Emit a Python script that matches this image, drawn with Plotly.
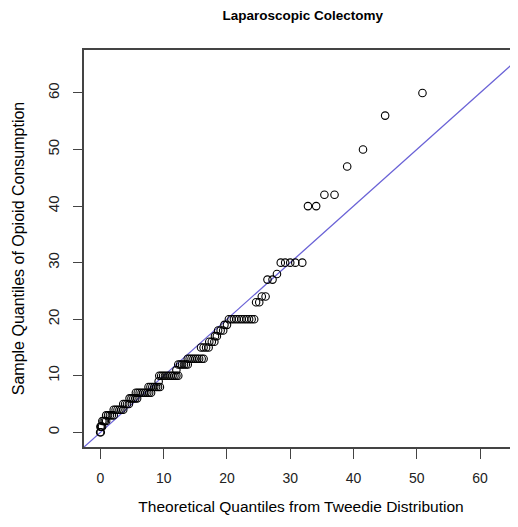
import plotly.graph_objects as go

# ---- data ----
theoretical_quantiles = [
    -0.05, 0.05,
    0.0, 0.1, 0.25,
    0.3, 0.5, 0.7, 0.9,
    0.9, 1.2, 1.5, 1.8, 2.1,
    2.1, 2.4, 2.7, 3.0, 3.3, 3.6,
    3.6, 3.9, 4.2, 4.5,
    4.6, 4.9, 5.2, 5.5, 5.8,
    5.6, 5.9, 6.2, 6.5, 6.8, 7.1, 7.4, 7.7, 8.0,
    7.6, 7.9, 8.2, 8.5, 8.8, 9.1, 9.4,
    9.2,
    9.3, 9.6, 9.9, 10.2, 10.5, 10.8, 11.1, 11.4, 11.7, 12.0, 12.3,
    12.0,
    12.3, 12.6, 12.9, 13.2, 13.5, 13.8,
    13.8, 14.1, 14.4, 14.7, 15.0, 15.3, 15.6, 16.0, 16.3,
    15.9, 16.3, 16.7, 17.1,
    17.2, 17.6, 18.0,
    18.1, 18.4,
    18.6, 19.0, 19.4,
    19.6, 20.0,
    20.3, 20.7, 21.1, 21.5, 21.9, 22.3, 22.7, 23.1, 23.5, 23.9, 24.3,
    24.6, 25.1,
    25.5, 26.1,
    26.4, 27.2,
    27.9,
    28.5, 29.2, 30.0, 30.8, 31.9,
    32.8, 34.1,
    35.4, 37.0,
    39.0,
    41.5,
    45.0,
    50.9,
]
sample_quantiles = [
    0, 0,
    1, 1, 1,
    2, 2, 2, 2,
    3, 3, 3, 3, 3,
    4, 4, 4, 4, 4, 4,
    5, 5, 5, 5,
    6, 6, 6, 6, 6,
    7, 7, 7, 7, 7, 7, 7, 7, 7,
    8, 8, 8, 8, 8, 8, 8,
    9,
    10, 10, 10, 10, 10, 10, 10, 10, 10, 10, 10,
    11,
    12, 12, 12, 12, 12, 12,
    13, 13, 13, 13, 13, 13, 13, 13, 13,
    15, 15, 15, 15,
    16, 16, 16,
    17, 17,
    18, 18, 18,
    19, 19,
    20, 20, 20, 20, 20, 20, 20, 20, 20, 20, 20,
    23, 23,
    24, 24,
    27, 27,
    28,
    30, 30, 30, 30, 30,
    40, 40,
    42, 42,
    47,
    50,
    56,
    60,
]
ref_intercept = 0.0
ref_slope = 1.0
tick_values = [0, 10, 20, 30, 40, 50, 60]
x_range = [-2.6, 66.0]
y_range = [-2.6, 67.6]

title_text = "<b>Laparoscopic Colectomy</b>"
x_title = "Theoretical Quantiles from Tweedie Distribution"
y_title = "Sample Quantiles of Opioid Consumption"

FONT = "Liberation Sans, Arial, sans-serif"
AXIS_COLOR = "#444444"

fig = go.Figure()

# reference line y = a + b*x over the visible range
line_x = [x_range[0] - 5, x_range[1] + 5]
line_y = [ref_intercept + ref_slope * v for v in line_x]
fig.add_trace(go.Scatter(
    x=line_x, y=line_y, mode="lines",
    line=dict(color="#6a62d6", width=1.3),
    hoverinfo="skip", showlegend=False,
))

fig.add_trace(go.Scatter(
    x=theoretical_quantiles, y=sample_quantiles, mode="markers",
    marker=dict(symbol="circle-open", size=7.5, color="#000000",
                line=dict(width=1.1, color="#000000")),
    showlegend=False,
))

fig.update_layout(
    width=510, height=519,
    margin=dict(l=75.5, r=0, t=42, b=80),
    paper_bgcolor="white", plot_bgcolor="white",
    font=dict(family=FONT, size=14, color="#000000"),
    title=dict(text=title_text, x=0.578, xanchor="center",
               y=0.986, yanchor="middle",
               font=dict(family=FONT, size=13.5, color="#000000")),
    showlegend=False,
)

fig.update_xaxes(
    range=x_range, tickmode="array", tickvals=tick_values,
    ticktext=[str(v) for v in tick_values],
    showgrid=False, zeroline=False, automargin=False,
    showline=True, linecolor=AXIS_COLOR, linewidth=1.5, mirror=True,
    ticks="outside", ticklen=10, tickwidth=1, tickcolor=AXIS_COLOR,
    ticklabelstandoff=7,
    tickfont=dict(family=FONT, size=14, color="#222222"),
    title=dict(text=x_title, standoff=17,
               font=dict(family=FONT, size=15.5, color="#000000")),
)
fig.update_yaxes(
    range=y_range, tickmode="array", tickvals=tick_values,
    ticktext=[str(v) for v in tick_values],
    showgrid=False, zeroline=False, automargin=False,
    showline=True, linecolor=AXIS_COLOR, linewidth=1.5,
    ticks="outside", ticklen=9, tickwidth=1, tickcolor=AXIS_COLOR,
    tickangle=-90, ticklabelstandoff=8,
    tickfont=dict(family=FONT, size=15, color="#222222"),
    title=dict(text=y_title, standoff=17,
               font=dict(family=FONT, size=16, color="#000000")),
)

fig.write_html("out.html")
